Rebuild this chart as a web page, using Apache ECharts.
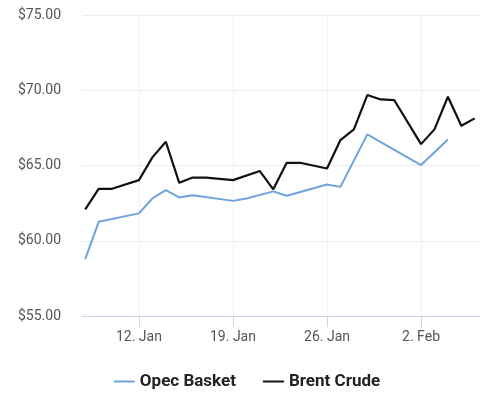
<!DOCTYPE html>
<html><head><meta charset="utf-8">
<script src="https://cdn.jsdelivr.net/npm/echarts@6/dist/echarts.min.js"></script>
<style>html,body{margin:0;padding:0;background:#fff}#c{width:494px;height:417px}</style>
</head><body><div id="c"></div>
<script>
// x = day number counted from 1 Jan (2 Feb = 33)
var opecDays   = [8, 9, 12, 13, 14, 15, 16, 19, 20, 22, 23, 26, 27, 29, 33, 35];
var opecValues = [58.78, 61.26, 61.82, 62.81, 63.36, 62.88, 63.03, 62.65, 62.81, 63.28, 62.99, 63.74, 63.58, 67.07, 65.03, 66.73];
var brentDays   = [8, 9, 10, 12, 13, 14, 15, 16, 17, 19, 21, 22, 23, 24, 26, 27, 28, 29, 30, 31, 33, 34, 35, 36, 37];
var brentValues = [62.08, 63.45, 63.45, 64.03, 65.54, 66.58, 63.85, 64.2, 64.2, 64.03, 64.63, 63.42, 65.18, 65.18, 64.8, 66.69, 67.4, 69.68, 69.39, 69.35, 66.42, 67.4, 69.57, 67.64, 68.13];
var tickDays   = [12, 19, 26, 33];
var tickLabels = ['12. Jan', '19. Jan', '26. Jan', '2. Feb'];

function pairs(d, v) { return d.map(function (x, i) { return [x, v[i]]; }); }

var chart = echarts.init(document.getElementById('c'), null, {renderer: 'canvas'});
chart.setOption({
  animation: false,
  textStyle: {fontFamily: 'Roboto'},
  grid: {left: 82, right: 14, top: 15, bottom: 101, outerBoundsMode: 'none'},
  xAxis: {
    type: 'value', min: 7.76, max: 37.39,
    axisLine: {show: true, lineStyle: {color: '#ccd6eb', width: 1}},
    axisTick: {show: true, customValues: tickDays, length: 11, lineStyle: {color: '#ccd6eb'}},
    axisLabel: {customValues: tickDays, margin: 14, fontSize: 14, color: '#555',
      formatter: function (v) { var i = tickDays.indexOf(v); return i >= 0 ? tickLabels[i] : ''; }},
    splitLine: {show: true, lineStyle: {color: '#f2f2f2'}}
  },
  yAxis: {
    type: 'value', min: 55, max: 75, interval: 5,
    axisLine: {show: false}, axisTick: {show: false},
    axisLabel: {margin: 21, fontSize: 14, color: '#555',
      formatter: function (v) { return '$' + v.toFixed(2); }},
    splitLine: {lineStyle: {color: '#ececec'}}
  },
  legend: {
    bottom: 22, left: 'center', itemGap: 27, itemWidth: 21, itemHeight: 2, icon: 'rect',
    textStyle: {fontSize: 17, fontWeight: 'bold', color: '#222', fontFamily: 'Roboto'},
    data: ['Opec Basket', 'Brent Crude']
  },
  series: [
    {name: 'Opec Basket', type: 'line', data: pairs(opecDays, opecValues), showSymbol: false,
      color: '#6fa3dc', lineStyle: {width: 2, color: '#6fa3dc'}},
    {name: 'Brent Crude', type: 'line', data: pairs(brentDays, brentValues), showSymbol: false,
      color: '#111', lineStyle: {width: 2.2, color: '#111'}}
  ]
});
</script></body></html>
